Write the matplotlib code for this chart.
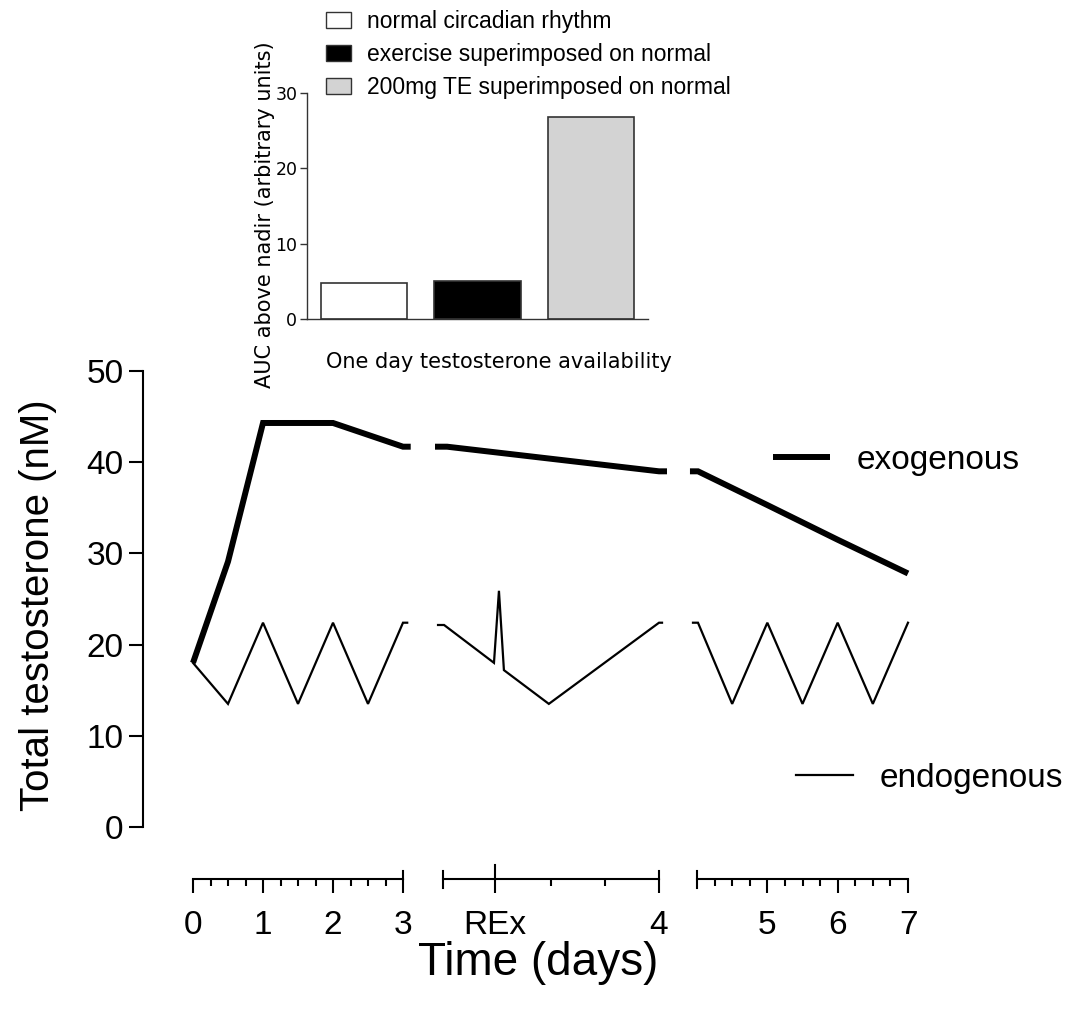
import matplotlib

matplotlib.use("Agg")

import matplotlib.pyplot as plt
from matplotlib.lines import Line2D
from matplotlib.patches import Patch

# endogenous (circadian) testosterone, one list per x-axis segment
endo_days_1 = [0, 0.5, 1, 1.5, 2, 2.5, 3, 3.06]
endo_nm_1 = [18.0, 13.5, 22.4, 13.5, 22.4, 13.5, 22.4, 22.4]
endo_days_2 = [2.977, 3.005, 3.236, 3.259, 3.282, 3.49, 4.0, 4.014]
endo_nm_2 = [22.15, 22.15, 18.0, 25.9, 17.2, 13.5, 22.4, 22.4]
endo_days_3 = [3.943, 4.014, 4.5, 5, 5.5, 6, 6.5, 7]
endo_nm_3 = [22.4, 22.4, 13.5, 22.4, 13.5, 22.4, 13.5, 22.4]

# exogenous (injected TE) testosterone
exo_days_1 = [0, 0.5, 1, 2, 3, 3.11]
exo_nm_1 = [18.0, 29.1, 44.3, 44.3, 41.7, 41.7]
exo_days_2 = [2.963, 3.019, 4.0, 4.037]
exo_nm_2 = [41.7, 41.7, 39.0, 39.0]
exo_days_3 = [3.90, 4.014, 5, 6, 7]
exo_nm_3 = [39.0, 39.0, 35.3, 31.5, 27.8]

rex_day = 3.24

# inset bar chart
auc_groups = ["normal circadian rhythm",
              "exercise superimposed on normal",
              "200mg TE superimposed on normal"]
auc_values = [4.8, 5.0, 26.8]
auc_colors = ["white", "black", "#d3d3d3"]

MAIN_FONT = "Liberation Sans"
INSET_FONT = "DejaVu Sans"

W, H = 1091, 1013
fig = plt.figure(figsize=(W / 100, H / 100), dpi=100)


def fx(px):
    return px / W


def fy(py):
    return 1 - py / H


# main panel geometry (pixels)
y_top, y_bot = 371, 827
segments = [
    (193, 403, (0, 3), endo_days_1, endo_nm_1, exo_days_1, exo_nm_1),
    (443, 659, (3, 4), endo_days_2, endo_nm_2, exo_days_2, exo_nm_2),
    (697, 908, (4, 7), endo_days_3, endo_nm_3, exo_days_3, exo_nm_3),
]
ax_h_px = y_bot - y_top
spine_off_px = 52
axes = []
for left, right, lims, ed, en, xd, xn in segments:
    ax = fig.add_axes([fx(left), fy(y_bot), (right - left) / W, ax_h_px / H])
    ax.set_xlim(*lims)
    ax.set_ylim(0, 50)
    ax.plot(ed, en, color="black", lw=1.6, clip_on=False,
            solid_joinstyle="miter")
    ax.plot(xd, xn, color="black", lw=4.3, clip_on=False,
            solid_capstyle="butt", solid_joinstyle="miter")
    for s in ["top", "right", "left"]:
        ax.spines[s].set_visible(False)
    ax.spines["bottom"].set_position(("outward", spine_off_px * 0.72))
    ax.spines["bottom"].set_linewidth(1.5)
    ax.tick_params(axis="x", which="major", direction="out", length=10,
                   width=1.5, pad=12, labelsize=24)
    ax.tick_params(axis="x", which="minor", direction="out", length=5,
                   width=1.5)
    ax.tick_params(axis="y", left=False, labelleft=False)
    for lab in ax.get_xticklabels():
        lab.set_fontfamily(MAIN_FONT)
    axes.append(ax)

ax1, ax2, ax3 = axes

# y axis lives on the first segment, pushed out to the left
ax1.spines["left"].set_visible(True)
ax1.spines["left"].set_position(("outward", 50 * 0.72))
ax1.spines["left"].set_linewidth(1.5)
ax1.tick_params(axis="y", left=True, labelleft=True, direction="out",
                length=10, width=1.5, pad=4, labelsize=24)
ax1.set_yticks([0, 10, 20, 30, 40, 50])
for lab in ax1.get_yticklabels():
    lab.set_fontfamily(MAIN_FONT)

ax1.set_xticks([0, 1, 2, 3])
ax1.set_xticks([q / 4 for q in range(13) if q % 4], minor=True)
ax2.set_xticks([rex_day, 4])
ax2.set_xticklabels(["REx", "4"])
ax2.set_xticks([3.5, 3.75], minor=True)
ax3.set_xticks([5, 6, 7])
ax3.set_xticks([4 + q / 4 for q in range(13) if q % 4], minor=True)
for lab in ax2.get_xticklabels() + ax3.get_xticklabels():
    lab.set_fontfamily(MAIN_FONT)


# segment end caps crossing the axis line
def cap(ax, x, up_px, down_px):
    base = -spine_off_px / ax_h_px
    ax.axvline(x, ymin=base - down_px / ax_h_px, ymax=base + up_px / ax_h_px,
               color="black", lw=1.5, clip_on=False)


cap(ax1, 3, 8, 0)
cap(ax2, 3, 8, 9)
cap(ax2, rex_day, 14, 0)
cap(ax2, 4, 8, 0)
cap(ax3, 4, 8, 9)

fig.text(fx(38), fy(605), "Total testosterone (nM)", rotation=90,
         ha="center", va="center", fontsize=29, family=MAIN_FONT)
fig.text(fx(538), fy(963), "Time (days)", ha="center", va="center",
         fontsize=33, family=MAIN_FONT)

# line legends on the right
exo_handle = Line2D([], [], color="black", lw=4.3, solid_capstyle="butt")
endo_handle = Line2D([], [], color="black", lw=1.6)
for handle, label, pos in [(exo_handle, "exogenous", (773, 460)),
                           (endo_handle, "endogenous", (796, 778))]:
    leg = fig.legend([handle], [label], loc="center left",
                     bbox_to_anchor=(fx(pos[0]), fy(pos[1])), frameon=False,
                     borderpad=0, borderaxespad=0, handlelength=1.7,
                     handletextpad=0.8, prop={"family": MAIN_FONT, "size": 24})

# inset bar chart
ins = fig.add_axes([fx(307), fy(319), (648 - 307) / W, (319 - 93) / H])
ins.bar(range(len(auc_values)), auc_values, width=0.76, color=auc_colors,
        edgecolor="#333333", linewidth=1.2)
ins.set_xlim(-0.5, 2.5)
ins.set_ylim(0, 30)
ins.set_yticks([0, 10, 20, 30])
ins.set_xticks([])
for s in ["top", "right"]:
    ins.spines[s].set_visible(False)
for s in ["left", "bottom"]:
    ins.spines[s].set_linewidth(1.0)
    ins.spines[s].set_color("#333333")
ins.tick_params(axis="y", direction="out", length=5, width=1.0,
                color="#333333", pad=2, labelsize=12.5)
for lab in ins.get_yticklabels():
    lab.set_fontfamily(INSET_FONT)

fig.text(fx(265), fy(215), "AUC above nadir (arbitrary units)", rotation=90,
         ha="center", va="center", fontsize=15, family=INSET_FONT)
fig.text(fx(499), fy(362), "One day testosterone availability",
         ha="center", va="center", fontsize=15, family=INSET_FONT)

bar_handles = [Patch(facecolor=c, edgecolor="#333333", linewidth=1.0)
               for c in auc_colors]
fig.legend(bar_handles, auc_groups, loc="upper left",
           bbox_to_anchor=(fx(326), fy(10)), frameon=False, borderpad=0,
           borderaxespad=0, handlelength=1.1, handleheight=0.65,
           handletextpad=0.7, labelspacing=0.44,
           prop={"family": MAIN_FONT, "size": 16.5})

fig.savefig("out.png", dpi=100)
plt.close(fig)
